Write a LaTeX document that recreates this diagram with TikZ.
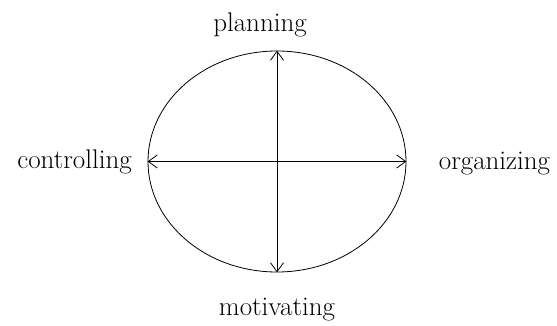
\documentclass[tikz,border=0pt]{standalone}
\usepackage{tikz}
\usetikzlibrary{shapes.geometric,arrows.meta}

\begin{document}
\begin{tikzpicture}[x=1pt, y=-1pt, line width=0.8pt,
  fn/.style={font=\fontsize{27}{32}\selectfont, inner sep=0pt, anchor=base},
  twoway/.style={{Straight Barb[length=9pt,width=13pt]}-{Straight Barb[length=9pt,width=13pt]}}]
\useasboundingbox (0,0) rectangle (557,326);

% Cycle
\node[draw, ellipse, minimum width=258pt, minimum height=221pt, inner sep=0pt] (cycle) at (277,161.5) {};

% Axes through the cycle
\draw[twoway] (cycle.south) -- (cycle.north);
\draw[twoway] (cycle.west) -- (cycle.east);

% Functions
\node[fn] (plan) at (260,32) {planning};
\node[fn] (org) at (494.5,170) {organizing};
\node[fn] (mot) at (277,315) {motivating};
\node[fn] (ctrl) at (74.5,168) {controlling};
\end{tikzpicture}
\end{document}
